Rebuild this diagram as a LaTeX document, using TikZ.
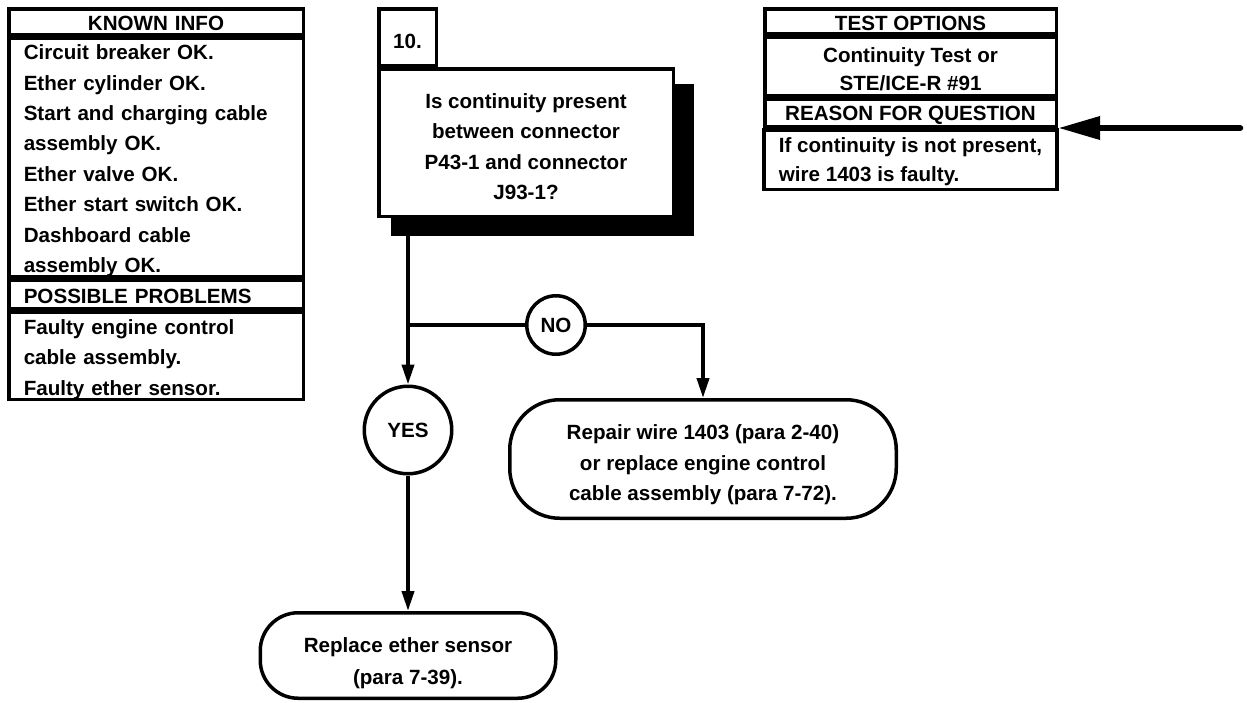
\documentclass[tikz,border=0pt]{standalone}
\usepackage{fontspec}
\setmainfont{Liberation Sans}
\usepackage{tikz}
\usetikzlibrary{arrows.meta, positioning, shadows}

\newcommand{\chartfont}{\fontsize{20.6pt}{30.4pt}\selectfont\bfseries}
% pushes a node's text down by #1 pt inside its box
\newcommand{\textdrop}[1]{\rule{0pt}{\dimexpr15pt+#1pt*2\relax}}

\begin{document}
\begin{tikzpicture}[
    x=1pt, y=-1pt,
    every node/.style={font=\chartfont},
    cell/.style={
      rectangle, draw, line width=3.5pt, fill=white,
      inner xsep=15pt, inner ysep=0pt
    },
    lefttab/.style={cell, text width=264.5pt},
    righttab/.style={cell, minimum width=291.5pt},
    questionbox/.style={
      rectangle, draw, line width=3.5pt, fill=white,
      minimum width=294.5pt, minimum height=147.5pt, align=center,
      drop shadow={shadow xshift=16pt, shadow yshift=-17pt,
                   shadow scale=1.03, fill=black, opacity=1}
    },
    numbox/.style={
      rectangle, draw, line width=3.5pt, fill=white,
      minimum width=57.5pt, minimum height=56.5pt, inner sep=0pt
    },
    answer/.style={circle, draw, line width=3.5pt, fill=white, inner sep=0pt},
    action/.style={
      rectangle, draw, line width=3.5pt, fill=white, align=center
    },
    link/.style={line width=3.8pt},
    flow/.style={link, -{Triangle[length=20pt, width=12pt]}},
    pointer/.style={
      -{Triangle[length=42pt, width=22pt]}, line width=6.5pt, line cap=round
    }
  ]
  \useasboundingbox (0,0) rectangle (1247,702);

  % ===== known info / possible problems =====
  \node[lefttab, align=center, minimum height=25.5pt] (knownhead) at (156,21.5)
    {\textdrop{1.5}KNOWN INFO};
  \node[lefttab, align=left, minimum height=238.5pt, below=0pt of knownhead] (knownbody)
    {\textdrop{3.5}Circuit breaker OK.\\
     Ether cylinder OK.\\
     Start and charging cable\\
     assembly OK.\\
     Ether valve OK.\\
     Ether start switch OK.\\
     Dashboard cable\\
     assembly OK.};
  \node[lefttab, align=left, minimum height=28.5pt, below=0pt of knownbody] (probhead)
    {\textdrop{2}POSSIBLE PROBLEMS};
  \node[lefttab, align=left, minimum height=86.5pt, below=0pt of probhead] (probbody)
    {\textdrop{3.5}Faulty engine control\\
     cable assembly.\\
     Faulty ether sensor.};

  % ===== test options / reason for question =====
  \node[righttab, align=center, minimum height=24.5pt] (testhead) at (910.5,21)
    {\textdrop{2}TEST OPTIONS};
  \node[righttab, align=center, minimum height=58.5pt, below=0pt of testhead] (testbody)
    {\textdrop{3.5}Continuity Test or\\[-2pt]
     STE/ICE-R \#91};
  \node[righttab, align=center, minimum height=27.5pt, below=0pt of testbody] (reasonhead)
    {\textdrop{3}REASON FOR QUESTION};
  \node[righttab, align=left, minimum height=59.5pt, below=0pt of reasonhead] (reasonbody)
    {\textdrop{2}If continuity is not present,\\[-2pt]
     wire 1403 is faulty.};

  \coordinate (pointerstart) at (1240,128);
  \draw[pointer] (pointerstart) -- (reasonhead.south east);

  % ===== question 10 =====
  \node[questionbox] (question) at (526,142.5)
    {\textdrop{4}Is continuity present\\
     between connector\\
     P43-1 and connector\\
     J93-1?};
  \node[numbox, anchor=south west] (num) at (question.north west) {\textdrop{4}10.};

  % ===== answers =====
  \node[answer, minimum size=87.5pt] (yes) at (408,430) {YES};
  \node[answer, minimum size=58.5pt] (no) at (556,325) {NO};

  \node[action, minimum width=386.5pt, minimum height=118.5pt,
        rounded corners=50pt] (repair) at (703,459)
    {\textdrop{6}Repair wire 1403 (para 2-40)\\
     or replace engine control\\
     cable assembly (para 7-72).};
  \node[action, minimum width=295.5pt, minimum height=85.5pt,
        rounded corners=38pt] (replace) at (408,655.5)
    {\textdrop{8}Replace ether sensor\\[1.5pt]
     (para 7-39).};

  \draw[flow] (question.south -| yes.north) -- (yes.north);
  \draw[link] (no.west) -- (no.west -| yes.north);
  \draw[flow] (no.east) -| (repair.north);
  \draw[flow] (yes.south) -- (replace.north);

\end{tikzpicture}
\end{document}
